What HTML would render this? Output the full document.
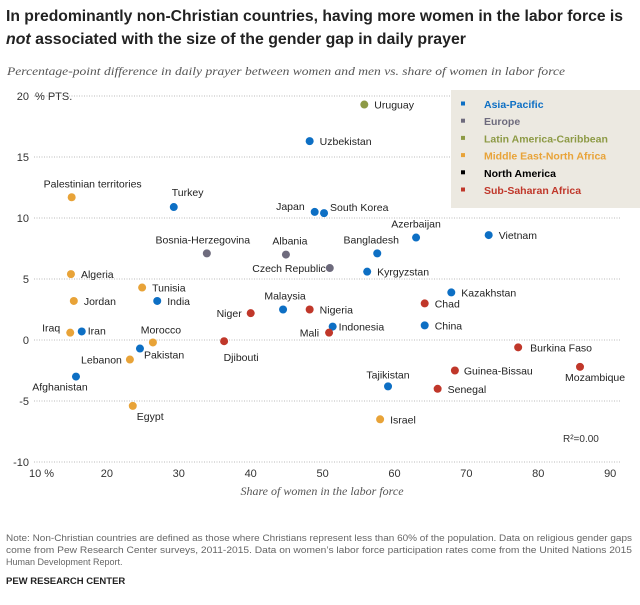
<!DOCTYPE html>
<html><head><meta charset="utf-8"><style>
body{margin:0;background:#fff;width:640px;height:600px;overflow:hidden;font-family:"Liberation Sans",sans-serif}
</style></head><body>
<svg width="640" height="600" xmlns="http://www.w3.org/2000/svg">
<text x="6" y="21" font-size="15.5" font-weight="bold" fill="#222" textLength="617" lengthAdjust="spacingAndGlyphs">In predominantly non-Christian countries, having more women in the labor force is</text>
<text x="6" y="44" font-size="15.5" font-weight="bold" fill="#222" textLength="460" lengthAdjust="spacingAndGlyphs"><tspan font-style="italic">not</tspan> associated with the size of the gender gap in daily prayer</text>
<text x="7" y="75" font-size="12" font-style="italic" font-family="Liberation Serif, serif" fill="#555" textLength="558" lengthAdjust="spacingAndGlyphs">Percentage-point difference in daily prayer between women and men vs. share of women in labor force</text>
<g id="grid"></g>
<rect x="451" y="90" width="189" height="118" fill="#ece9e1"/>
<g id="legend"></g>
<g id="pts"></g>
<text x="563" y="442" font-size="10" fill="#333">R²=0.00</text>
<text x="322" y="495" font-size="12" font-style="italic" font-family="Liberation Serif, serif" fill="#555" text-anchor="middle">Share of women in the labor force</text>
<text font-size="9" fill="#666"><tspan x="6" y="541" textLength="626" lengthAdjust="spacingAndGlyphs">Note: Non-Christian countries are defined as those where Christians represent less than 60% of the population. Data on religious gender gaps</tspan><tspan x="6" y="553" textLength="626" lengthAdjust="spacingAndGlyphs">come from Pew Research Center surveys, 2011-2015. Data on women’s labor force participation rates come from the United Nations 2015</tspan><tspan x="6" y="565">Human Development Report.</tspan></text>
<text x="6" y="584" font-size="9.5" font-weight="bold" fill="#222">PEW RESEARCH CENTER</text>
</svg>
<script>
const countries=["Uruguay","Uzbekistan","Palestinian territories","Turkey","Japan","South Korea","Bosnia-Herzegovina","Albania","Czech Republic","Bangladesh","Azerbaijan","Vietnam","Kyrgyzstan","Algeria","Tunisia","Kazakhstan","Jordan","India","Chad","Malaysia","Nigeria","Niger","Indonesia","China","Mali","Iraq","Iran","Morocco","Djibouti","Pakistan","Lebanon","Burkina Faso","Afghanistan","Guinea-Bissau","Mozambique","Tajikistan","Senegal","Egypt","Israel"];
const laborShare=[55.8,48.2,15.1,29.3,48.9,50.2,33.9,44.9,51.0,57.6,63.0,73.1,56.2,15.0,24.9,67.9,15.4,27.0,64.2,44.5,48.2,40.0,51.4,64.2,50.9,14.9,16.5,26.4,36.3,24.6,23.2,77.2,15.7,68.4,85.8,59.1,66.0,23.6,58.0];
const prayerGap=[19.3,16.3,11.7,10.9,10.5,10.4,7.1,7.0,5.9,7.1,8.4,8.6,5.6,5.4,4.3,3.9,3.2,3.2,3.0,2.5,2.5,2.2,1.1,1.2,0.6,0.6,0.7,-0.2,-0.1,-0.7,-1.6,-0.6,-3.0,-2.5,-2.2,-3.8,-4.0,-5.4,-6.5];
const regions=[2,0,3,0,0,0,1,1,1,0,0,0,0,3,3,0,3,0,5,0,5,5,0,0,5,3,0,3,5,0,3,5,0,5,5,0,5,3,3];
const regionNames=["Asia-Pacific","Europe","Latin America-Caribbean","Middle East-North Africa","North America","Sub-Saharan Africa"];
const yTicks=[20,15,10,5,0,-5,-10];
const xTicks=[10,20,30,40,50,60,70,80,90];
// label placement: [dx, dy, anchor]
const lp={"Uruguay":[10,4,"start"],"Uzbekistan":[10,4,"start"],"Palestinian territories":[21,-10,"middle"],"Turkey":[-2,-11,"start"],"Japan":[-10,-2,"end"],"South Korea":[6,-2,"start"],"Bosnia-Herzegovina":[-4,-10,"middle"],"Albania":[4,-10,"middle"],"Czech Republic":[-4,4,"end"],"Bangladesh":[-6,-10,"middle"],"Azerbaijan":[0,-10,"middle"],"Vietnam":[10,4,"start"],"Kyrgyzstan":[10,4,"start"],"Algeria":[10,4,"start"],"Tunisia":[10,4,"start"],"Kazakhstan":[10,4,"start"],"Jordan":[10,4,"start"],"India":[10,4,"start"],"Chad":[10,4,"start"],"Malaysia":[2,-10,"middle"],"Nigeria":[10,4,"start"],"Niger":[-9,4,"end"],"Indonesia":[6,4,"start"],"China":[10,4,"start"],"Mali":[-10,4,"end"],"Iraq":[-10,-1,"end"],"Iran":[6,3,"start"],"Morocco":[8,-9,"middle"],"Djibouti":[17,20,"middle"],"Pakistan":[4,10,"start"],"Lebanon":[-8,4,"end"],"Burkina Faso":[12,4,"start"],"Afghanistan":[-16,14,"middle"],"Guinea-Bissau":[9,4,"start"],"Mozambique":[-15,14,"start"],"Tajikistan":[0,-8,"middle"],"Senegal":[10,4,"start"],"Egypt":[4,14,"start"],"Israel":[10,4,"start"]};
const colors=["#0d6fc4","#6e6b7d","#8d9a45","#e8a338","#000000","#c0372a"];
const NS="http://www.w3.org/2000/svg";
const X=v=>35+(v-10)*7.19, Y=v=>340-v*12.2;
function mk(t,a,p){const e=document.createElementNS(NS,t);for(const k in a)e.setAttribute(k,a[k]);p.appendChild(e);return e;}
const grid=document.getElementById('grid');
yTicks.forEach(t=>{
  const l=mk('line',{x1:34,x2:620,y1:Y(t),y2:Y(t),stroke:'#bbb','stroke-dasharray':'1,1.5','stroke-width':1},grid);
  
  
  const tx=mk('text',{x:29,y:Y(t)+4,'font-size':11,fill:'#333','text-anchor':'end'},grid);
  tx.textContent=t;
  
  
});
const u=mk('text',{x:35,y:Y(20)+4,'font-size':11,fill:'#333'},grid);u.textContent='% PTS.';


xTicks.forEach(t=>{
  const tx=mk('text',{x:X(t),y:477,'font-size':11,fill:'#333','text-anchor':'middle'},grid);
  tx.textContent=t;
  
  
  if(t===10){tx.setAttribute('text-anchor','start');tx.setAttribute('x',X(t)-6);tx.textContent='10 %';}
});
const lg=document.getElementById('legend');
regionNames.forEach((n,i)=>{
  const y=105+i*17.2;
  const r=mk('rect',{x:461,y:y-3.5,width:4,height:4,fill:colors[i]},lg);
  
  
  const t=mk('text',{x:484,y:y+3,'font-size':10.5,'font-weight':'bold',fill:colors[i]},lg);
  t.textContent=n;
  
  
});
const pg=document.getElementById('pts');
countries.forEach((c,i)=>{
  const cx=X(laborShare[i]),cy=Y(prayerGap[i]);
  const d=mk('circle',{cx:cx,cy:cy,r:4,fill:colors[regions[i]]},pg);
  
  
  const p=lp[c]||[8,4,'start'];
  const t=mk('text',{x:cx+p[0],y:cy+p[1],'font-size':10.5,fill:'#222','text-anchor':p[2]},pg);
  t.textContent=c;
  
  
});
</script>
</body></html>
